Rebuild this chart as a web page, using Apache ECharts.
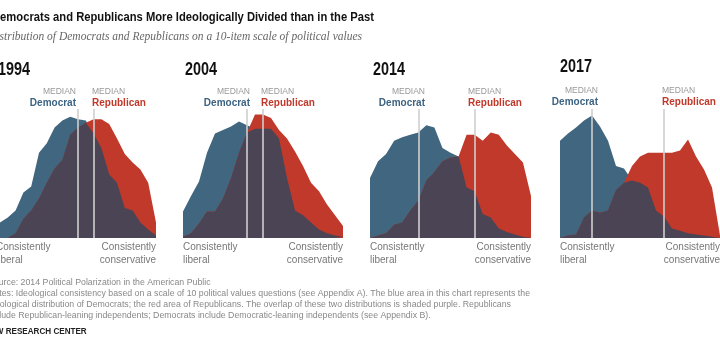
<!DOCTYPE html>
<html><head><meta charset="utf-8">
<style>html,body{margin:0;padding:0;background:#fff;}#c{width:720px;height:340px;}</style>
<script src="https://cdn.jsdelivr.net/npm/echarts@6/dist/echarts.min.js"></script>
</head><body><div id="c"></div>
<script>
// scale positions (21-point ideological consistency scale)
const scale = ['-10','-9','-8','-7','-6','-5','-4','-3','-2','-1','0','1','2','3','4','5','6','7','8','9','10'];
const years = ['1994','2004','2014','2017'];
// share of each party at each scale position (%)
const dem1994 = [1.3,1.7,2.3,3.8,4.3,7.1,7.9,9.2,9.8,10.1,9.9,9.8,8.7,7.5,5.3,4.6,2.5,2.3,1.3,0.7,0.2];
const rep1994 = [0,0,0.4,1.6,2.3,3.3,4.6,5.8,6.5,8.6,9.2,9.6,9.9,9.9,9.5,8.3,7.0,6.3,5.7,4.6,1.3];
const dem2004 = [2.2,3.5,4.7,7.1,8.7,9.0,9.3,9.7,9.4,9.1,9.1,9.1,8.3,5.0,2.3,1.9,1.3,0.7,0.4,0.2,0.1];
const rep2004 = [0.1,0.4,1.2,2.2,2.2,3.3,5.0,7.1,8.8,10.3,10.3,10.0,9.0,8.3,7.2,6.0,4.6,3.9,2.8,1.9,1.0];
const dem2014 = [5.0,6.4,7.0,8.1,8.4,8.6,8.8,9.4,9.2,7.5,7.1,6.8,4.2,3.9,2.0,1.7,0.8,0.5,0.3,0.1,0];
const rep2014 = [0,0.2,0.4,1.1,1.3,2.3,3.1,4.8,5.5,6.4,6.7,6.8,8.6,8.6,8.1,8.8,8.6,7.7,7.0,6.3,3.5];
const dem2017 = [8.1,8.7,9.2,9.8,10.2,9.3,8.1,6.0,5.8,4.8,4.6,4.2,2.3,1.8,0.8,0.6,0.4,0.3,0.2,0.1,0];
const rep2017 = [0,0.2,0.3,1.7,2.3,2.1,2.3,4.0,4.6,6.0,6.8,7.1,7.1,7.1,7.1,7.3,8.2,6.8,5.7,4.2,0.2];
// median scale positions
const demMedian = ['0','-2','-4','-6'];
const repMedian = ['2','0','3','3'];

const demSeries = [dem1994, dem2004, dem2014, dem2017];
const repSeries = [rep1994, rep2004, rep2014, rep2017];

const titleText = 'Democrats and Republicans More Ideologically Divided than in the Past';
const subtitleText = 'Distribution of Democrats and Republicans on a 10-item scale of political values';
const footLines = ['Source: 2014 Political Polarization in the American Public',
 'Notes: Ideological consistency based on a scale of 10 political values questions (see Appendix A). The blue area in this chart represents the',
 'ideological distribution of Democrats; the red area of Republicans. The overlap of these two distributions is shaded purple. Republicans',
 'include Republican-leaning independents; Democrats include Democratic-leaning independents (see Appendix B).'];

const BLUE = '#41667f', RED = '#c0392b', PURPLE = '#4a4455', LINE = '#cfcfcf';
const panels = [{l:-4,w:160},{l:183,w:160},{l:370,w:161},{l:560,w:160}];
const TOP = 109, BASE = 238, YMAX = (BASE-TOP)/12;

const cv = document.createElement('canvas').getContext('2d');
function fitScale(text, font, target){ cv.font = font; return target / cv.measureText(text).width; }

const grid=[], xAxis=[], yAxis=[], series=[], graphic=[];
const lab = (t,x,y,o) => ({type:'text',x:x,y:y,style:Object.assign({text:t,fill:'#777',font:'10px "Liberation Sans"',textVerticalAlign:'middle'},o||{})});

panels.forEach((p,i)=>{
  grid.push({left:p.l, top:TOP, width:p.w, height:BASE-TOP, containLabel:false});
  xAxis.push({type:'category', gridIndex:i, data:scale, boundaryGap:false, show:false});
  yAxis.push({type:'value', gridIndex:i, min:0, max:YMAX, show:false});
  const d = demSeries[i], r = repSeries[i];
  const ov = d.map((v,k)=>Math.min(v, r[k]));
  const base = {type:'line', xAxisIndex:i, yAxisIndex:i, symbol:'none', lineStyle:{width:0}, silent:true, animation:false};
  series.push(Object.assign({}, base, {name:'Democrat', data:d, areaStyle:{color:BLUE, opacity:1}, z:1}));
  series.push(Object.assign({}, base, {name:'Republican', data:r, areaStyle:{color:RED, opacity:1}, z:2}));
  series.push(Object.assign({}, base, {name:'Overlap', data:ov, areaStyle:{color:PURPLE, opacity:1}, z:3,
    markLine:{silent:true, symbol:'none', label:{show:false}, lineStyle:{color:LINE, width:1.6, type:'solid'},
      data:[{xAxis:demMedian[i]},{xAxis:repMedian[i]}]}}));
});

// year titles (condensed look)
const yearX = [-2,185,373,560], yearY=[70,70,70,67];
years.forEach((y,i)=>graphic.push({type:'text',x:yearX[i],y:yearY[i],scaleX:0.8,style:{text:y,fill:'#111',font:'bold 18px "Liberation Sans"',textVerticalAlign:'middle'}}));

// median labels
const dLab = [[76,92],[250,261],[425,468],[598,662]];
const labY = [92,92,92,91], nameY=[103,103,103,102];
dLab.forEach((pos,i)=>{
  graphic.push({type:'text',x:pos[0],y:labY[i],style:{text:'MEDIAN',fill:'#999',font:'8.5px "Liberation Sans"',textAlign:'right',textVerticalAlign:'middle'}});
  graphic.push({type:'text',x:pos[0],y:nameY[i],style:{text:'Democrat',fill:'#3d6382',font:'bold 10px "Liberation Sans"',textAlign:'right',textVerticalAlign:'middle'}});
  graphic.push({type:'text',x:pos[1],y:labY[i],style:{text:'MEDIAN',fill:'#999',font:'8.5px "Liberation Sans"',textAlign:'left',textVerticalAlign:'middle'}});
  graphic.push({type:'text',x:pos[1],y:nameY[i],style:{text:'Republican',fill:RED,font:'bold 10px "Liberation Sans"',textAlign:'left',textVerticalAlign:'middle'}});
});

// axis end labels
panels.forEach((p,i)=>{
  graphic.push(lab('Consistently',p.l,247));
  graphic.push(lab('liberal',p.l,260));
  graphic.push(lab('Consistently',p.l+p.w,247,{textAlign:'right'}));
  graphic.push(lab('conservative',p.l+p.w,260,{textAlign:'right'}));
});

// title, subtitle
const tFont = 'bold 13.5px "Liberation Sans"';
graphic.push({type:'text',x:-8,y:17,scaleX:fitScale(titleText,tFont,382),style:{text:titleText,fill:'#111',font:tFont,textVerticalAlign:'middle'}});
graphic.push({type:'text',x:-12,y:37,style:{text:subtitleText,fill:'#666',font:'italic 11.5px "Liberation Serif"',textVerticalAlign:'middle'}});

// footer
const fFont = '9px "Liberation Sans"';
const fs = fitScale(footLines[1], fFont, 542);
const footY=[283,294,305,316];
footLines.forEach((t,i)=>graphic.push({type:'text',x:-12,y:footY[i],scaleX:fs,style:{text:t,fill:'#888',font:fFont,textVerticalAlign:'middle'}}));
graphic.push({type:'text',x:-15,y:332,scaleX:0.9,style:{text:'PEW RESEARCH CENTER',fill:'#222',font:'bold 9px "Liberation Sans"',textVerticalAlign:'middle'}});

const chart = echarts.init(document.getElementById('c'), null, {renderer:'canvas'});
chart.setOption({animation:false, grid, xAxis, yAxis, series, graphic});
</script></body></html>
